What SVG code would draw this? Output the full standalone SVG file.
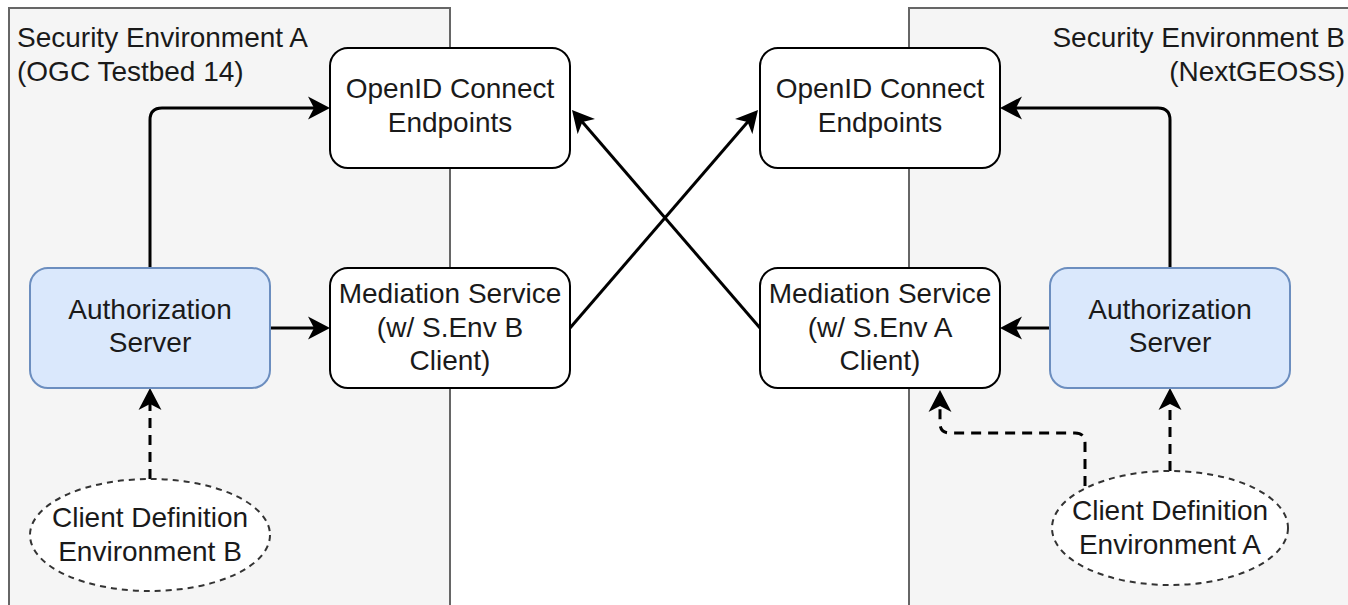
<svg xmlns="http://www.w3.org/2000/svg" width="1348" height="605" viewBox="0 0 1348 605">
<style>
.cont{fill:#f5f5f5;stroke:#666666;stroke-width:2}
.box{fill:#ffffff;stroke:#000000;stroke-width:2}
.auth{fill:#dae8fc;stroke:#6c8ebf;stroke-width:2}
.ell{fill:#ffffff;stroke:#333333;stroke-width:2;stroke-dasharray:6 5}
text{font-family:"Liberation Sans",Arial,sans-serif;font-size:28px;fill:#1a1a1a}
.c{text-anchor:middle}
.e{fill:none;stroke:#000000;stroke-width:3}
.d{stroke-dasharray:10 7}
</style>
<defs>
<marker id="arr" markerUnits="userSpaceOnUse" markerWidth="24" markerHeight="24" viewBox="0 0 24 24" refX="16" refY="12" orient="auto">
<path d="M0,0.5 L22,12 L0,23.5 L6,12 Z" fill="#000000"/>
</marker>
</defs>
<g id="envA">
<rect class="cont" x="9" y="8" width="441" height="620"/>
<text x="17" y="47">Security Environment A</text>
<text x="17" y="81">(OGC Testbed 14)</text>
</g>
<g id="envB">
<rect class="cont" x="909" y="8" width="460" height="620"/>
<text x="1345" y="47" text-anchor="end">Security Environment B</text>
<text x="1345" y="81" text-anchor="end">(NextGEOSS)</text>
</g>
<g id="connectors">
<path class="e" d="M150,268 V120 Q150,108 162,108 H324" marker-end="url(#arr)"/>
<path class="e" d="M270,328 H324" marker-end="url(#arr)"/>
<path class="e" d="M570,328 L754.1,114.5" marker-end="url(#arr)"/>
<path class="e" d="M760,328 L575.9,114.5" marker-end="url(#arr)"/>
<path class="e" d="M1170,268 V120 Q1170,108 1158,108 H1006" marker-end="url(#arr)"/>
<path class="e" d="M1050,328 H1006" marker-end="url(#arr)"/>
<path class="e d" d="M150,479 V394" marker-end="url(#arr)"/>
<path class="e d" d="M1170,471 V394" marker-end="url(#arr)"/>
<path class="e d" d="M1085,486 V443 Q1085,433 1075,433 H950 Q940,433 940,423 V396" marker-end="url(#arr)"/>
</g>
<g id="oidcA">
<rect class="box" x="330" y="48" width="240" height="120" rx="18"/>
<text class="c" x="450" y="98">OpenID Connect</text>
<text class="c" x="450" y="132">Endpoints</text>
</g>
<g id="oidcB">
<rect class="box" x="760" y="48" width="240" height="120" rx="18"/>
<text class="c" x="880" y="98">OpenID Connect</text>
<text class="c" x="880" y="132">Endpoints</text>
</g>
<g id="authA">
<rect class="auth" x="30" y="268" width="240" height="120" rx="18"/>
<text class="c" x="150" y="319">Authorization</text>
<text class="c" x="150" y="352">Server</text>
</g>
<g id="authB">
<rect class="auth" x="1050" y="268" width="240" height="120" rx="18"/>
<text class="c" x="1170" y="319">Authorization</text>
<text class="c" x="1170" y="352">Server</text>
</g>
<g id="medA">
<rect class="box" x="330" y="268" width="240" height="120" rx="18"/>
<text class="c" x="450" y="303">Mediation Service</text>
<text class="c" x="450" y="337">(w/ S.Env B</text>
<text class="c" x="450" y="370">Client)</text>
</g>
<g id="medB">
<rect class="box" x="760" y="268" width="240" height="120" rx="18"/>
<text class="c" x="880" y="303">Mediation Service</text>
<text class="c" x="880" y="337">(w/ S.Env A</text>
<text class="c" x="880" y="370">Client)</text>
</g>
<g id="clientB">
<ellipse class="ell" cx="150" cy="535" rx="120" ry="56"/>
<text class="c" x="150" y="527">Client Definition</text>
<text class="c" x="150" y="561">Environment B</text>
</g>
<g id="clientA">
<ellipse class="ell" cx="1170" cy="528" rx="118" ry="57"/>
<text class="c" x="1170" y="520">Client Definition</text>
<text class="c" x="1170" y="554">Environment A</text>
</g>
</svg>
